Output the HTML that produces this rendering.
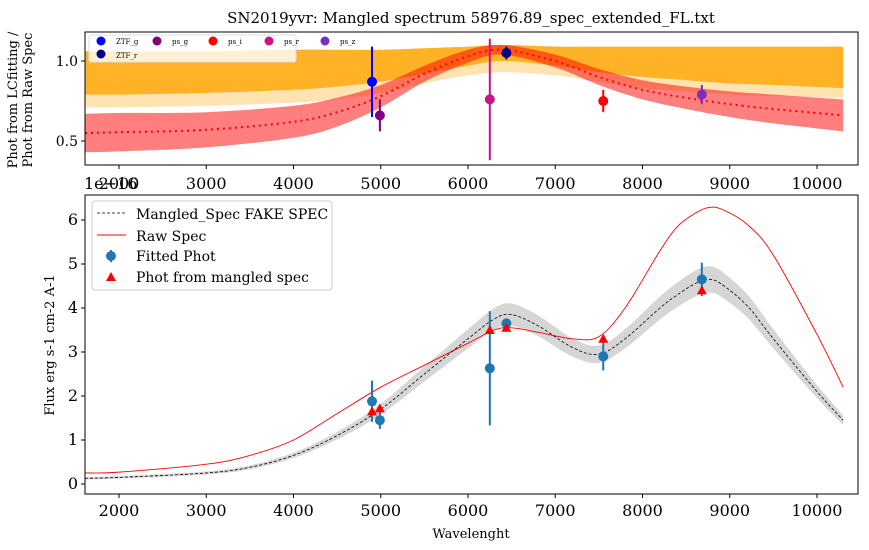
<!DOCTYPE html>
<html><head><meta charset="utf-8"><style>
body{margin:0;background:#fff;}
svg{display:block;font-family:"DejaVu Serif","Liberation Serif",serif;}
</style></head><body>
<svg id="c" width="869" height="550" viewBox="0 0 869 550">
<text x="471" y="23" font-size="15" text-anchor="middle">SN2019yvr: Mangled spectrum 58976.89_spec_extended_FL.txt</text>
<g id="topPanel"></g>
<g id="botPanel"></g>
</svg>
<script>
// ---- data ----
const ratioW = [1610,2000,3000,4000,4500,5000,5500,6000,6400,7000,7500,8000,8500,9000,9500,10300];
const ratioV = [0.55,0.555,0.57,0.62,0.68,0.78,0.92,1.03,1.07,1.00,0.90,0.82,0.77,0.73,0.70,0.66];
const ratioErr = [0.12,0.12,0.11,0.1,0.09,0.07,0.05,0.04,0.03,0.04,0.05,0.06,0.07,0.08,0.09,0.1];
const orangeHi = [1.06,1.06,1.06,1.07,1.07,1.07,1.08,1.09,1.10,1.09,1.09,1.09,1.09,1.09,1.09,1.09];
const orangeLo = [0.79,0.79,0.80,0.82,0.84,0.87,0.92,0.97,1.0,0.97,0.93,0.90,0.88,0.86,0.85,0.83];
const orangeLight = [0.71,0.71,0.72,0.74,0.76,0.80,0.86,0.91,0.93,0.91,0.87,0.83,0.81,0.79,0.78,0.77];
const photNames = ["ZTF_g","ps_g","ps_r","ZTF_r","ps_i","ps_z"];
const photColors = ["#0000ff","#800080","#c71585","#00008b","#ff0000","#7b2fbe"];
const photW = [4900,4990,6250,6440,7550,8680];
const ratioPhot = [0.87,0.66,0.76,1.05,0.75,0.79];
const ratioPhotErr = [0.22,0.1,0.38,0.04,0.07,0.06];
const specW = [1610,2000,3000,3500,4000,4500,5000,5500,6000,6300,6500,6800,7200,7500,7800,8200,8400,8600,8750,8900,9200,9500,10000,10300];
const mangled = [0.13,0.15,0.25,0.38,0.65,1.1,1.7,2.5,3.3,3.75,3.85,3.6,3.1,2.95,3.3,4.0,4.3,4.55,4.65,4.55,4.05,3.3,2.1,1.45];
const raw = [0.25,0.27,0.45,0.65,1.0,1.6,2.2,2.7,3.2,3.5,3.55,3.45,3.3,3.35,4.0,5.3,5.85,6.15,6.28,6.25,5.9,5.2,3.4,2.2];
const fitted = [1.88,1.45,2.63,3.65,2.9,4.65];
const fittedErr = [0.47,0.2,1.3,0.1,0.32,0.38];
const mangledPhot = [1.65,1.72,3.5,3.55,3.3,4.4];
const xTicks = [2000,3000,4000,5000,6000,7000,8000,9000,10000];
const yTopTicks = [0.5,1.0];
const yBotTicks = [0,1,2,3,4,5,6];
// ---- helpers ----
const NS="http://www.w3.org/2000/svg";
const X = w => 119 + (w-2000)*0.08725;
const YT = v => 61 - (v-1)*160;
const YB = v => 484 - v*44;
function el(tag, attrs, parent){const e=document.createElementNS(NS,tag);for(const k in attrs)e.setAttribute(k,attrs[k]);parent.appendChild(e);return e;}
function smooth(pts){let d="M"+pts[0][0]+","+pts[0][1];for(let i=0;i<pts.length-1;i++){const p0=pts[i-1]||pts[i],p1=pts[i],p2=pts[i+1],p3=pts[i+2]||p2;
d+=" C"+(p1[0]+(p2[0]-p0[0])/6)+","+(p1[1]+(p2[1]-p0[1])/6)+" "+(p2[0]-(p3[0]-p1[0])/6)+","+(p2[1]-(p3[1]-p1[1])/6)+" "+p2[0]+","+p2[1];}return d;}
function band(ws,lo,hi,Y){const a=ws.map((w,i)=>[X(w),Y(hi[i])]);const b=ws.map((w,i)=>[X(w),Y(lo[i])]).reverse();return smooth(a)+" L"+smooth(b).slice(1)+" Z";}
const tp=document.getElementById('topPanel'), bp=document.getElementById('botPanel');
// ---- top panel ----
let e;
e=el('path',{d:band(ratioW,orangeLight,orangeLo,YT),fill:'#ffa500','fill-opacity':0.3},tp);


e=el('path',{d:band(ratioW,orangeLo,orangeHi,YT),fill:'#ffa500','fill-opacity':0.85},tp);


e=el('path',{d:band(ratioW,ratioV.map((v,i)=>v-ratioErr[i]),ratioV.map((v,i)=>v+ratioErr[i]),YT),fill:'#ff0000','fill-opacity':0.5},tp);


e=el('path',{d:smooth(ratioW.map((w,i)=>[X(w),YT(ratioV[i])])),fill:'none',stroke:'#ff0000','stroke-width':2,'stroke-dasharray':'2,4'},tp);


photW.forEach((w,i)=>{
 e=el('line',{x1:X(w),x2:X(w),y1:YT(ratioPhot[i]-ratioPhotErr[i]),y2:YT(ratioPhot[i]+ratioPhotErr[i]),stroke:photColors[i],'stroke-width':2},tp);
 
 
 e=el('circle',{cx:X(w),cy:YT(ratioPhot[i]),r:5,fill:photColors[i]},tp);
 
 
});
e=el('rect',{x:85,y:32,width:773,height:133,fill:'none',stroke:'#000','stroke-width':1},tp);


// top legend
e=el('rect',{x:89,y:35,width:207,height:27,fill:'#fff','fill-opacity':0.8,stroke:'#ddd',rx:2},tp);


const legOrder=[0,1,4,2,5];
legOrder.forEach((k,j)=>{const lx=101+j*56;
 e=el('circle',{cx:lx,cy:41,r:4.5,fill:photColors[k]},tp);
 
 
 e=el('text',{x:lx+15,y:44,'font-size':7},tp);e.textContent=photNames[k];
 
 });
e=el('circle',{cx:101,cy:54,r:4.5,fill:photColors[3]},tp);


e=el('text',{x:116,y:58,'font-size':7},tp);e.textContent='ZTF_r';


yTopTicks.forEach(v=>{el('line',{x1:81,x2:85,y1:YT(v),y2:YT(v),stroke:'#000'},tp);
 e=el('text',{x:78,y:YT(v)+5,'font-size':14,'text-anchor':'end'},tp);e.textContent=v.toFixed(1);
 
 });
xTicks.forEach(w=>{el('line',{x1:X(w),x2:X(w),y1:165,y2:169,stroke:'#000'},tp);
 e=el('text',{x:X(w),y:189,'font-size':16,'text-anchor':'middle'},tp);e.textContent=w;
 
 });
e=el('text',{x:84,y:189,'font-size':16},tp);e.textContent='1e−16';


e=el('text',{transform:'translate(20,100) rotate(-90)','font-size':13,'text-anchor':'middle'},tp);
e.innerHTML='<tspan x="0" dy="-3">Phot from LCfitting /</tspan><tspan x="0" dy="15">Phot from Raw Spec</tspan>';


// ---- bottom panel ----
e=el('path',{d:band(specW,mangled.map(v=>v*0.94-0.02),mangled.map(v=>v*1.06+0.02),YB),fill:'#999','fill-opacity':0.4},bp);


e=el('path',{d:smooth(specW.map((w,i)=>[X(w),YB(raw[i])])),fill:'none',stroke:'#ff0000','stroke-width':0.9},bp);


e=el('path',{d:smooth(specW.map((w,i)=>[X(w),YB(mangled[i])])),fill:'none',stroke:'#000','stroke-width':0.8,'stroke-dasharray':'3,2'},bp);


photW.forEach((w,i)=>{
 e=el('line',{x1:X(w),x2:X(w),y1:YB(fitted[i]-fittedErr[i]),y2:YB(fitted[i]+fittedErr[i]),stroke:'#1f77b4','stroke-width':2},bp);
 
 
 e=el('circle',{cx:X(w),cy:YB(fitted[i]),r:5,fill:'#1f77b4'},bp);
 
 
 const x=X(w),y=YB(mangledPhot[i]);
 e=el('polygon',{points:`${x},${y-5} ${x-5},${y+4} ${x+5},${y+4}`,fill:'#ff0000'},bp);
 
 
});
e=el('rect',{x:85,y:195,width:773,height:299,fill:'none',stroke:'#000'},bp);


yBotTicks.forEach(v=>{el('line',{x1:81,x2:85,y1:YB(v),y2:YB(v),stroke:'#000'},bp);
 e=el('text',{x:78,y:YB(v)+5,'font-size':16,'text-anchor':'end'},bp);e.textContent=v;
 
 });
xTicks.forEach(w=>{el('line',{x1:X(w),x2:X(w),y1:494,y2:498,stroke:'#000'},bp);
 e=el('text',{x:X(w),y:516,'font-size':16,'text-anchor':'middle'},bp);e.textContent=w;
 
 });
e=el('text',{x:471,y:538,'font-size':13,'text-anchor':'middle'},bp);e.textContent='Wavelenght';


e=el('text',{transform:'translate(54,345) rotate(-90)','font-size':13,'text-anchor':'middle'},bp);e.textContent='Flux erg s-1 cm-2 A-1';


// bottom legend
e=el('rect',{x:92,y:201,width:240,height:89,fill:'#fff','fill-opacity':0.8,stroke:'#ccc',rx:3},bp);


const L=[["Mangled_Spec FAKE SPEC",214],["Raw Spec",236],["Fitted Phot",256],["Phot from mangled spec",277]];
el('line',{x1:97,x2:126,y1:213,y2:213,stroke:'#000','stroke-width':0.8,'stroke-dasharray':'3,2'},bp);
el('line',{x1:97,x2:126,y1:235,y2:235,stroke:'#f00','stroke-width':0.9},bp);
el('line',{x1:111,x2:111,y1:250,y2:262,stroke:'#1f77b4','stroke-width':2},bp);
el('circle',{cx:111,cy:256,r:5,fill:'#1f77b4'},bp);
el('polygon',{points:'111,272 106,281 116,281',fill:'#f00'},bp);
L.forEach(([t,y])=>{e=el('text',{x:136,y:y+5,'font-size':14},bp);e.textContent=t;
 
 });
</script>
</body></html>
